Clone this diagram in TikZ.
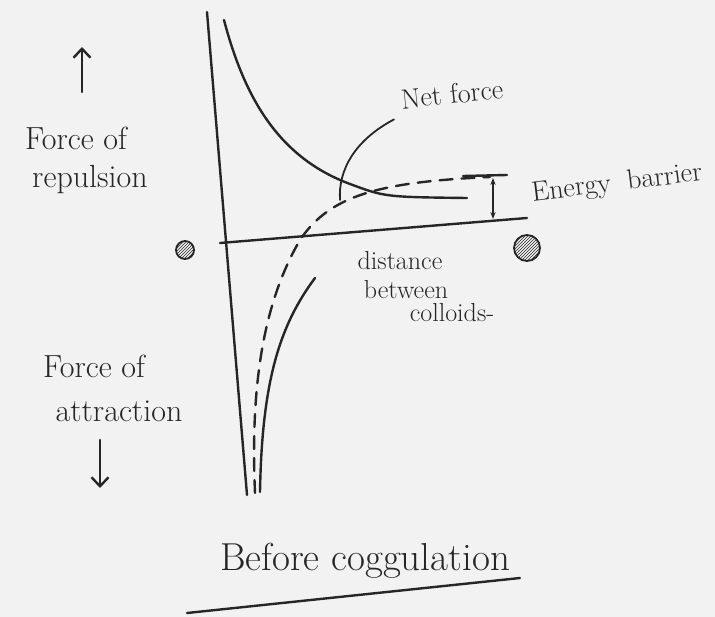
\documentclass[tikz,border=0pt]{standalone}
\usepackage{xcolor}
\usepackage{tikz}
\usetikzlibrary{arrows.meta, patterns}
\colorlet{pencil}{black!85}
\colorlet{paper}{gray!10}

\tikzset{
  pen/.style={draw=pencil, line width=2.4pt, line cap=round},
  hand/.style={text=pencil, inner sep=0pt, align=left, font=\fontsize{32}{36}\selectfont},
  small hand/.style={hand, font=\fontsize{26}{30}\selectfont},
  colloid/.style={circle, draw=pencil, line width=1.8pt, minimum size=#1,
    pattern=north east lines, pattern color=pencil}
}

\begin{document}
\begin{tikzpicture}[x=1pt, y=-1pt, >=Stealth]
    \fill[paper] (0,0) rectangle (715,617);
    \useasboundingbox (0,0) rectangle (715,617);

    % axes
    \draw[pen] (207,12) -- (247,495);
    \draw[pen] (220,243) -- (527,218);

    % repulsion, attraction and net force curves
    \draw[pen] (224,20) .. controls (245,100) and (280,158) .. (350,184) .. controls (385,197) .. (467,198);
    \draw[pen] (315,278) .. controls (280,325) and (262,380) .. (260,492);
    \draw[pen, dash pattern=on 13pt off 9pt] (255,493) .. controls (250,380) and (265,300) .. (300,240) .. controls (330,195) and (380,182) .. (490,177);

    % energy barrier
    \draw[pen] (463,176) -- (507,175);
    \draw[pen, line width=1.8pt, {Stealth[length=7pt]}-{Stealth[length=7pt]}] (493,178) -- (493,219);
    \node[small hand, rotate=7, font=\fontsize{28}{32}\selectfont] (barrier) at (617,184) {Energy\hspace{8pt} barrier};

    % net force label with leader
    \node[small hand, rotate=6, font=\fontsize{28}{32}\selectfont] (netlbl) at (452,94) {Net force};
    \coordinate (netpt) at (340,200);
    \draw[pen, line width=1.8pt] (netlbl.south west) ++(-8,10) .. controls (355,140) and (338,170) .. (netpt);

    % x-axis label
    \node[small hand] (dist) at (400,261) {distance};
    \node[small hand] (betw) at (406,290) {between};
    \node[small hand] (coll) at (452,313) {colloids-};

    % colloid particles
    \node[colloid=18pt] (left) at (185,250) {};
    \node[colloid=26pt] (right) at (527,248) {};

    % y-axis labels
    \draw[pen, ->, >={Straight Barb[length=9pt, width=17pt]}] (82,92) -- (82,47);
    \node[hand] (rep1) at (76,138) {Force of};
    \node[hand] (rep2) at (90,180) {repulsion};
    \node[hand] (att1) at (94,366) {Force of};
    \node[hand] (att2) at (119,411) {attraction};
    \draw[pen, ->, >={Straight Barb[length=9pt, width=17pt]}] (100,440) -- (100,488);

    % title
    \node[hand, font=\fontsize{39}{44}\selectfont] (title) at (365,561) {Before coggulation};
    \draw[pen] (187,613) -- (520,578);
\end{tikzpicture}
\end{document}
